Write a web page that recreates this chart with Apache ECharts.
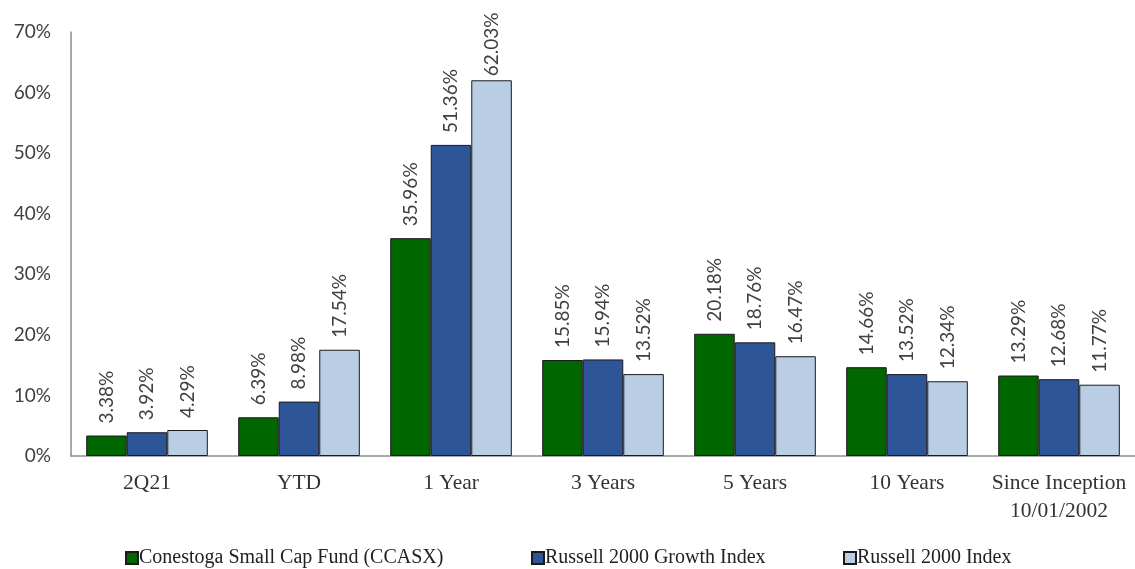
<!DOCTYPE html>
<html>
<head>
<meta charset="utf-8">
<script src="https://cdn.jsdelivr.net/npm/echarts@6/dist/echarts.min.js"></script>
<style>html,body{margin:0;padding:0;background:#fff}#c{width:1135px;height:569px}</style>
</head>
<body>
<div id="c"></div>
<script>
const categories = ['2Q21', 'YTD', '1 Year', '3 Years', '5 Years', '10 Years', 'Since Inception\n10/01/2002'];
const seriesNames = ['Conestoga Small Cap Fund (CCASX)', 'Russell 2000 Growth Index', 'Russell 2000 Index'];
const fundValues = [3.38, 6.39, 35.96, 15.85, 20.18, 14.66, 13.29];
const growthValues = [3.92, 8.98, 51.36, 15.94, 18.76, 13.52, 12.68];
const indexValues = [4.29, 17.54, 62.03, 13.52, 16.47, 12.34, 11.77];
const yTicks = [0, 10, 20, 30, 40, 50, 60, 70];
const colors = ['#006600', '#2E5597', '#B9CDE5'];
const legendLefts = [125, 531, 843];

const chart = echarts.init(document.getElementById('c'));
const mk = (name, data, color) => ({
  name, type: 'bar',
  data: data.map(v => v > 60 ? { value: v, label: { distance: 4 } } : v),
  barGap: '0%', barCategoryGap: '20%',
  itemStyle: { color, borderColor: '#1a1a1a', borderWidth: 1 },
  label: {
    show: true, position: 'top', rotate: 90, align: 'left', verticalAlign: 'middle',
    distance: 12, formatter: p => p.value.toFixed(2) + '%',
    fontFamily: 'Lato', fontSize: 19, color: '#404040'
  }
});
chart.setOption({
  animation: false,
  grid: { left: 71, top: 32, width: 1071, height: 424, containLabel: false },
  legend: seriesNames.map((n, i) => ({
    data: [n], left: legendLefts[i], top: 548, itemWidth: 12, itemHeight: 12, padding: 0,
    icon: 'rect',
    textStyle: { fontFamily: 'Liberation Serif', fontSize: 20, color: '#222', padding: [0, 0, 0, -4] }
  })),
  xAxis: {
    type: 'category', data: categories,
    axisLine: { lineStyle: { color: '#8c8c8c', width: 1.5 } },
    axisTick: { show: false },
    axisLabel: { interval: 0, fontFamily: 'Liberation Serif', fontSize: 21.5, color: '#333', margin: 13, lineHeight: 28 }
  },
  yAxis: {
    type: 'value', min: 0, max: 70, interval: 10,
    axisLine: { show: true, lineStyle: { color: '#8c8c8c', width: 1.5 } },
    axisTick: { show: false },
    splitLine: { show: false },
    axisLabel: { fontFamily: 'Lato', fontSize: 19, color: '#404040', margin: 20,
      formatter: v => yTicks.includes(v) ? v + '%' : '' }
  },
  series: [
    mk(seriesNames[0], fundValues, colors[0]),
    mk(seriesNames[1], growthValues, colors[1]),
    mk(seriesNames[2], indexValues, colors[2])
  ]
});
</script>
</body>
</html>
